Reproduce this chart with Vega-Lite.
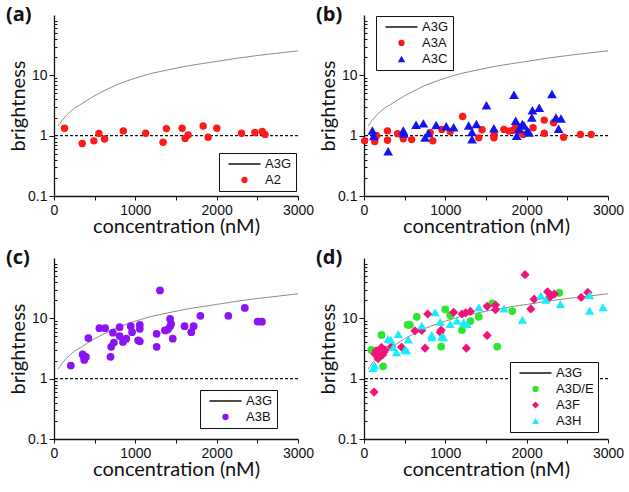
{
  "$schema": "https://vega.github.io/schema/vega-lite/v6.json",
  "background": "white",
  "padding": {"left": 6, "top": 4, "right": 4, "bottom": 4},
  "datasets": {
    "curve": [
      {"c": 50, "b": 1.45}, {"c": 75, "b": 1.6}, {"c": 100, "b": 1.8}, {"c": 150, "b": 2.15},
      {"c": 200, "b": 2.5}, {"c": 250, "b": 2.85}, {"c": 330, "b": 3.3}, {"c": 400, "b": 3.8},
      {"c": 500, "b": 4.6}, {"c": 600, "b": 5.4}, {"c": 750, "b": 6.8}, {"c": 900, "b": 8.1},
      {"c": 1000, "b": 9.0}, {"c": 1200, "b": 10.8}, {"c": 1400, "b": 12.3}, {"c": 1600, "b": 14.0},
      {"c": 1800, "b": 15.5}, {"c": 2000, "b": 17.0}, {"c": 2250, "b": 19.2}, {"c": 2500, "b": 21.3},
      {"c": 2750, "b": 23.3}, {"c": 3000, "b": 25.5}
    ],
    "base": [{"level": 1}],
    "pa": [
      {"c": 129, "b": 1.33, "series": "A2"}, {"c": 347, "b": 0.74, "series": "A2"}, {"c": 490, "b": 0.82, "series": "A2"},
      {"c": 552, "b": 1.09, "series": "A2"}, {"c": 622, "b": 0.88, "series": "A2"}, {"c": 852, "b": 1.2, "series": "A2"},
      {"c": 1127, "b": 1.1, "series": "A2"}, {"c": 1341, "b": 0.78, "series": "A2"}, {"c": 1382, "b": 1.31, "series": "A2"},
      {"c": 1575, "b": 1.33, "series": "A2"}, {"c": 1612, "b": 0.9, "series": "A2"}, {"c": 1649, "b": 1.03, "series": "A2"},
      {"c": 1834, "b": 1.45, "series": "A2"}, {"c": 1895, "b": 0.94, "series": "A2"}, {"c": 2002, "b": 1.33, "series": "A2"},
      {"c": 2306, "b": 1.1, "series": "A2"}, {"c": 2470, "b": 1.13, "series": "A2"}, {"c": 2560, "b": 1.17, "series": "A2"},
      {"c": 2594, "b": 1.05, "series": "A2"}
    ],
    "pb": [
      {"c": 8, "b": 0.82, "series": "A3A"}, {"c": 132, "b": 0.8, "series": "A3A"}, {"c": 155, "b": 1.0, "series": "A3A"},
      {"c": 289, "b": 1.2, "series": "A3A"}, {"c": 289, "b": 0.84, "series": "A3A"}, {"c": 413, "b": 1.08, "series": "A3A"},
      {"c": 483, "b": 0.89, "series": "A3A"}, {"c": 586, "b": 0.86, "series": "A3A"}, {"c": 813, "b": 1.12, "series": "A3A"},
      {"c": 846, "b": 0.82, "series": "A3A"}, {"c": 957, "b": 1.27, "series": "A3A"}, {"c": 1060, "b": 1.17, "series": "A3A"},
      {"c": 1213, "b": 2.08, "series": "A3A"}, {"c": 1411, "b": 0.92, "series": "A3A"}, {"c": 1452, "b": 1.25, "series": "A3A"},
      {"c": 1597, "b": 0.92, "series": "A3A"}, {"c": 1600, "b": 1.05, "series": "A3A"}, {"c": 1720, "b": 1.27, "series": "A3A"},
      {"c": 1782, "b": 1.19, "series": "A3A"}, {"c": 1824, "b": 1.22, "series": "A3A"}, {"c": 1865, "b": 1.38, "series": "A3A"},
      {"c": 1906, "b": 1.15, "series": "A3A"}, {"c": 1956, "b": 1.05, "series": "A3A"}, {"c": 2079, "b": 1.35, "series": "A3A"},
      {"c": 2216, "b": 1.81, "series": "A3A"}, {"c": 2216, "b": 1.1, "series": "A3A"}, {"c": 2331, "b": 1.64, "series": "A3A"},
      {"c": 2455, "b": 0.94, "series": "A3A"}, {"c": 2661, "b": 1.05, "series": "A3A"}, {"c": 2793, "b": 1.05, "series": "A3A"},
      {"c": 103, "b": 1.22, "series": "A3C"}, {"c": 120, "b": 0.99, "series": "A3C"}, {"c": 297, "b": 0.55, "series": "A3C"},
      {"c": 483, "b": 1.22, "series": "A3C"}, {"c": 490, "b": 1.08, "series": "A3C"}, {"c": 640, "b": 1.52, "series": "A3C"},
      {"c": 730, "b": 1.6, "series": "A3C"}, {"c": 751, "b": 0.93, "series": "A3C"}, {"c": 792, "b": 1.1, "series": "A3C"},
      {"c": 887, "b": 1.5, "series": "A3C"}, {"c": 1011, "b": 1.43, "series": "A3C"}, {"c": 1102, "b": 1.38, "series": "A3C"},
      {"c": 1287, "b": 1.47, "series": "A3C"}, {"c": 1328, "b": 0.87, "series": "A3C"}, {"c": 1328, "b": 1.15, "series": "A3C"},
      {"c": 1382, "b": 1.56, "series": "A3C"}, {"c": 1506, "b": 3.2, "series": "A3C"}, {"c": 1597, "b": 1.33, "series": "A3C"},
      {"c": 1844, "b": 4.76, "series": "A3C"}, {"c": 1865, "b": 1.77, "series": "A3C"}, {"c": 1877, "b": 1.0, "series": "A3C"},
      {"c": 1906, "b": 1.3, "series": "A3C"}, {"c": 1947, "b": 1.56, "series": "A3C"}, {"c": 1968, "b": 1.47, "series": "A3C"},
      {"c": 2009, "b": 1.22, "series": "A3C"}, {"c": 2030, "b": 1.13, "series": "A3C"}, {"c": 2063, "b": 2.0, "series": "A3C"},
      {"c": 2071, "b": 2.63, "series": "A3C"}, {"c": 2154, "b": 2.9, "series": "A3C"}, {"c": 2311, "b": 4.9, "series": "A3C"},
      {"c": 2360, "b": 2.0, "series": "A3C"}, {"c": 2422, "b": 1.93, "series": "A3C"}, {"c": 2393, "b": 1.3, "series": "A3C"}
    ],
    "pc": [
      {"c": 207, "b": 1.65, "series": "A3B"}, {"c": 352, "b": 2.52, "series": "A3B"}, {"c": 372, "b": 2.23, "series": "A3B"},
      {"c": 393, "b": 2.3, "series": "A3B"}, {"c": 372, "b": 2.04, "series": "A3B"}, {"c": 422, "b": 4.72, "series": "A3B"},
      {"c": 558, "b": 6.87, "series": "A3B"}, {"c": 629, "b": 6.87, "series": "A3B"}, {"c": 695, "b": 2.3, "series": "A3B"},
      {"c": 703, "b": 3.37, "series": "A3B"}, {"c": 724, "b": 5.77, "series": "A3B"}, {"c": 736, "b": 3.96, "series": "A3B"},
      {"c": 807, "b": 7.13, "series": "A3B"}, {"c": 807, "b": 5.09, "series": "A3B"}, {"c": 848, "b": 4.06, "series": "A3B"},
      {"c": 889, "b": 4.6, "series": "A3B"}, {"c": 943, "b": 7.4, "series": "A3B"}, {"c": 960, "b": 5.9, "series": "A3B"},
      {"c": 1034, "b": 4.32, "series": "A3B"}, {"c": 1055, "b": 4.16, "series": "A3B"}, {"c": 1055, "b": 7.8, "series": "A3B"},
      {"c": 1055, "b": 6.7, "series": "A3B"}, {"c": 1262, "b": 5.55, "series": "A3B"}, {"c": 1262, "b": 3.37, "series": "A3B"},
      {"c": 1303, "b": 29, "series": "A3B"}, {"c": 1365, "b": 6.3, "series": "A3B"}, {"c": 1398, "b": 6.5, "series": "A3B"},
      {"c": 1427, "b": 9.75, "series": "A3B"}, {"c": 1440, "b": 8.1, "series": "A3B"}, {"c": 1427, "b": 7.3, "series": "A3B"},
      {"c": 1460, "b": 4.6, "series": "A3B"}, {"c": 1605, "b": 7.4, "series": "A3B"}, {"c": 1688, "b": 5.9, "series": "A3B"},
      {"c": 1717, "b": 7.4, "series": "A3B"}, {"c": 1800, "b": 11.0, "series": "A3B"}, {"c": 2143, "b": 11.0, "series": "A3B"},
      {"c": 2346, "b": 14.9, "series": "A3B"}, {"c": 2503, "b": 8.8, "series": "A3B"}, {"c": 2557, "b": 8.8, "series": "A3B"}
    ],
    "pd": [
      {"c": 91, "b": 3.0, "series": "A3D/E"}, {"c": 215, "b": 5.3, "series": "A3D/E"}, {"c": 235, "b": 1.6, "series": "A3D/E"},
      {"c": 536, "b": 7.8, "series": "A3D/E"}, {"c": 565, "b": 7.8, "series": "A3D/E"}, {"c": 648, "b": 10.6, "series": "A3D/E"},
      {"c": 949, "b": 3.4, "series": "A3D/E"}, {"c": 998, "b": 14.1, "series": "A3D/E"}, {"c": 1060, "b": 11.3, "series": "A3D/E"},
      {"c": 1205, "b": 6.4, "series": "A3D/E"}, {"c": 1308, "b": 9.0, "series": "A3D/E"}, {"c": 1411, "b": 10.6, "series": "A3D/E"},
      {"c": 1576, "b": 17.7, "series": "A3D/E"}, {"c": 1638, "b": 3.4, "series": "A3D/E"}, {"c": 1824, "b": 13.2, "series": "A3D/E"},
      {"c": 2401, "b": 26.5, "series": "A3D/E"},
      {"c": 124, "b": 0.6, "series": "A3F"}, {"c": 132, "b": 2.58, "series": "A3F"}, {"c": 150, "b": 2.9, "series": "A3F"},
      {"c": 173, "b": 2.14, "series": "A3F"}, {"c": 190, "b": 2.4, "series": "A3F"}, {"c": 215, "b": 3.3, "series": "A3F"},
      {"c": 230, "b": 2.5, "series": "A3F"}, {"c": 243, "b": 2.75, "series": "A3F"}, {"c": 260, "b": 3.0, "series": "A3F"},
      {"c": 338, "b": 3.4, "series": "A3F"}, {"c": 462, "b": 3.33, "series": "A3F"}, {"c": 627, "b": 6.2, "series": "A3F"},
      {"c": 710, "b": 6.3, "series": "A3F"}, {"c": 751, "b": 3.2, "series": "A3F"}, {"c": 784, "b": 11.8, "series": "A3F"},
      {"c": 937, "b": 5.9, "series": "A3F"}, {"c": 949, "b": 6.4, "series": "A3F"}, {"c": 1102, "b": 12.6, "series": "A3F"},
      {"c": 1205, "b": 11.8, "series": "A3F"}, {"c": 1250, "b": 12.3, "series": "A3F"}, {"c": 1258, "b": 3.2, "series": "A3F"},
      {"c": 1308, "b": 13.0, "series": "A3F"}, {"c": 1514, "b": 5.2, "series": "A3F"}, {"c": 1514, "b": 15.8, "series": "A3F"},
      {"c": 1617, "b": 16.6, "series": "A3F"}, {"c": 1617, "b": 13.9, "series": "A3F"}, {"c": 1980, "b": 53, "series": "A3F"},
      {"c": 2051, "b": 14.3, "series": "A3F"}, {"c": 2092, "b": 20.8, "series": "A3F"}, {"c": 2257, "b": 27.5, "series": "A3F"},
      {"c": 2298, "b": 23.6, "series": "A3F"}, {"c": 2340, "b": 25.1, "series": "A3F"}, {"c": 2277, "b": 22.2, "series": "A3F"},
      {"c": 2670, "b": 22.2, "series": "A3F"}, {"c": 2752, "b": 26.9, "series": "A3F"},
      {"c": 111, "b": 1.5, "series": "A3H"}, {"c": 132, "b": 1.66, "series": "A3H"}, {"c": 297, "b": 4.56, "series": "A3H"},
      {"c": 330, "b": 4.4, "series": "A3H"}, {"c": 359, "b": 3.3, "series": "A3H"}, {"c": 400, "b": 2.75, "series": "A3H"},
      {"c": 421, "b": 5.5, "series": "A3H"}, {"c": 503, "b": 3.0, "series": "A3H"}, {"c": 524, "b": 2.93, "series": "A3H"},
      {"c": 545, "b": 4.45, "series": "A3H"}, {"c": 710, "b": 7.57, "series": "A3H"}, {"c": 833, "b": 5.3, "series": "A3H"},
      {"c": 834, "b": 4.86, "series": "A3H"}, {"c": 875, "b": 12.6, "series": "A3H"}, {"c": 937, "b": 8.8, "series": "A3H"},
      {"c": 957, "b": 5.0, "series": "A3H"}, {"c": 978, "b": 4.86, "series": "A3H"}, {"c": 1060, "b": 8.07, "series": "A3H"},
      {"c": 1143, "b": 9.16, "series": "A3H"}, {"c": 1225, "b": 8.6, "series": "A3H"}, {"c": 1267, "b": 8.07, "series": "A3H"},
      {"c": 1411, "b": 15.2, "series": "A3H"}, {"c": 1721, "b": 14.6, "series": "A3H"}, {"c": 1947, "b": 9.5, "series": "A3H"},
      {"c": 2174, "b": 23.6, "series": "A3H"}, {"c": 2236, "b": 20.3, "series": "A3H"}, {"c": 2414, "b": 17.2, "series": "A3H"},
      {"c": 2773, "b": 24.2, "series": "A3H"}, {"c": 2773, "b": 13.4, "series": "A3H"}, {"c": 2938, "b": 15.2, "series": "A3H"}
    ]
  },
  "concat": [
    {
      "width": 244, "height": 181,
      "title": {"text": "(a)"},
      "layer": [
        {"data": {"name": "curve"}, "mark": {"type": "line", "color": "#8c8c8c", "strokeWidth": 1},
         "encoding": {
           "x": {"field": "c", "type": "quantitative", "scale": {"domain": [0, 3000]},
                 "axis": {"values": [0, 500, 1000, 1500, 2000, 2500, 3000], "format": "d", "labelExpr": "datum.value % 1000 === 0 ? datum.label : ''", "title": "concentration (nM)"}},
           "y": {"field": "b", "type": "quantitative", "scale": {"type": "log", "domain": [0.1, 87]},
                 "axis": {"values": [0.1, 0.2, 0.3, 0.4, 0.5, 0.6, 0.7, 0.8, 0.9, 1, 2, 3, 4, 5, 6, 7, 8, 9, 10, 20, 30, 40, 50, 60, 70, 80],
                          "labelExpr": "datum.value === 0.1 ? '0.1' : datum.value === 1 ? '1' : datum.value === 10 ? '10' : ''",
                          "tickSize": {"condition": {"test": "datum.value === 0.1 || datum.value === 1 || datum.value === 10", "value": 5}, "value": -3},
                          "title": "brightness"}}}},
        {"data": {"name": "base"}, "mark": {"type": "rule", "color": "#111", "strokeDash": [3, 2], "strokeWidth": 1.2},
         "encoding": {"y": {"field": "level", "type": "quantitative"}}},
        {"data": {"name": "pa"}, "mark": {"type": "point", "filled": true, "opacity": 1, "size": 55},
         "encoding": {
           "x": {"field": "c", "type": "quantitative"},
           "y": {"field": "b", "type": "quantitative"},
           "color": {"field": "series", "type": "nominal", "scale": {"domain": ["A3G", "A2"], "range": ["#111", "#ff1a1a"]},
                     "legend": {"title": null, "orient": "none", "legendX": 165, "legendY": 138,
                                "encode": {"symbols": {"update": {"size": {"signal": "datum.value === 'A3G' ? 1024 : 40"}, "stroke": {"signal": "datum.value === 'A3G' ? '#111' : 'transparent'"}, "strokeWidth": {"value": 1.5}}}}}},
           "shape": {"field": "series", "type": "nominal", "scale": {"domain": ["A3G", "A2"], "range": ["stroke", "circle"]}}}}
      ]
    },
    {
      "width": 244, "height": 181,
      "title": {"text": "(b)"},
      "layer": [
        {"data": {"name": "curve"}, "mark": {"type": "line", "color": "#8c8c8c", "strokeWidth": 1},
         "encoding": {
           "x": {"field": "c", "type": "quantitative", "scale": {"domain": [0, 3000]},
                 "axis": {"values": [0, 500, 1000, 1500, 2000, 2500, 3000], "format": "d", "labelExpr": "datum.value % 1000 === 0 ? datum.label : ''", "title": "concentration (nM)"}},
           "y": {"field": "b", "type": "quantitative", "scale": {"type": "log", "domain": [0.1, 87]},
                 "axis": {"values": [0.1, 0.2, 0.3, 0.4, 0.5, 0.6, 0.7, 0.8, 0.9, 1, 2, 3, 4, 5, 6, 7, 8, 9, 10, 20, 30, 40, 50, 60, 70, 80],
                          "labelExpr": "datum.value === 0.1 ? '0.1' : datum.value === 1 ? '1' : datum.value === 10 ? '10' : ''",
                          "tickSize": {"condition": {"test": "datum.value === 0.1 || datum.value === 1 || datum.value === 10", "value": 5}, "value": -3},
                          "title": "brightness"}}}},
        {"data": {"name": "base"}, "mark": {"type": "rule", "color": "#111", "strokeDash": [3, 2], "strokeWidth": 1.2},
         "encoding": {"y": {"field": "level", "type": "quantitative"}}},
        {"data": {"name": "pb"}, "mark": {"type": "point", "filled": true, "opacity": 1},
         "encoding": {
           "x": {"field": "c", "type": "quantitative"},
           "y": {"field": "b", "type": "quantitative"},
           "size": {"condition": {"test": "datum.series === 'A3C'", "value": 95}, "value": 55},
           "color": {"field": "series", "type": "nominal", "scale": {"domain": ["A3G", "A3A", "A3C"], "range": ["#111", "#ff1a1a", "#1414f0"]},
                     "legend": {"title": null, "orient": "none", "legendX": 12, "legendY": 1,
                                "encode": {"symbols": {"update": {"size": {"signal": "datum.value === 'A3G' ? 1024 : datum.value === 'A3C' ? 55 : 40"}, "stroke": {"signal": "datum.value === 'A3G' ? '#111' : 'transparent'"}, "strokeWidth": {"value": 1.5}}}}}},
           "shape": {"field": "series", "type": "nominal", "scale": {"domain": ["A3G", "A3A", "A3C"], "range": ["stroke", "circle", "triangle-up"]}}}}
      ]
    },
    {
      "width": 244, "height": 181,
      "title": {"text": "(c)"},
      "layer": [
        {"data": {"name": "curve"}, "mark": {"type": "line", "color": "#8c8c8c", "strokeWidth": 1},
         "encoding": {
           "x": {"field": "c", "type": "quantitative", "scale": {"domain": [0, 3000]},
                 "axis": {"values": [0, 500, 1000, 1500, 2000, 2500, 3000], "format": "d", "labelExpr": "datum.value % 1000 === 0 ? datum.label : ''", "title": "concentration (nM)"}},
           "y": {"field": "b", "type": "quantitative", "scale": {"type": "log", "domain": [0.1, 87]},
                 "axis": {"values": [0.1, 0.2, 0.3, 0.4, 0.5, 0.6, 0.7, 0.8, 0.9, 1, 2, 3, 4, 5, 6, 7, 8, 9, 10, 20, 30, 40, 50, 60, 70, 80],
                          "labelExpr": "datum.value === 0.1 ? '0.1' : datum.value === 1 ? '1' : datum.value === 10 ? '10' : ''",
                          "tickSize": {"condition": {"test": "datum.value === 0.1 || datum.value === 1 || datum.value === 10", "value": 5}, "value": -3},
                          "title": "brightness"}}}},
        {"data": {"name": "base"}, "mark": {"type": "rule", "color": "#111", "strokeDash": [3, 2], "strokeWidth": 1.2},
         "encoding": {"y": {"field": "level", "type": "quantitative"}}},
        {"data": {"name": "pc"}, "mark": {"type": "point", "filled": true, "opacity": 1, "size": 60},
         "encoding": {
           "x": {"field": "c", "type": "quantitative"},
           "y": {"field": "b", "type": "quantitative"},
           "color": {"field": "series", "type": "nominal", "scale": {"domain": ["A3G", "A3B"], "range": ["#111", "#8a14f5"]},
                     "legend": {"title": null, "orient": "none", "legendX": 146, "legendY": 132,
                                "encode": {"symbols": {"update": {"size": {"signal": "datum.value === 'A3G' ? 1024 : 40"}, "stroke": {"signal": "datum.value === 'A3G' ? '#111' : 'transparent'"}, "strokeWidth": {"value": 1.5}}}}}},
           "shape": {"field": "series", "type": "nominal", "scale": {"domain": ["A3G", "A3B"], "range": ["stroke", "circle"]}}}}
      ]
    },
    {
      "width": 244, "height": 181,
      "title": {"text": "(d)"},
      "layer": [
        {"data": {"name": "curve"}, "mark": {"type": "line", "color": "#8c8c8c", "strokeWidth": 1},
         "encoding": {
           "x": {"field": "c", "type": "quantitative", "scale": {"domain": [0, 3000]},
                 "axis": {"values": [0, 500, 1000, 1500, 2000, 2500, 3000], "format": "d", "labelExpr": "datum.value % 1000 === 0 ? datum.label : ''", "title": "concentration (nM)"}},
           "y": {"field": "b", "type": "quantitative", "scale": {"type": "log", "domain": [0.1, 87]},
                 "axis": {"values": [0.1, 0.2, 0.3, 0.4, 0.5, 0.6, 0.7, 0.8, 0.9, 1, 2, 3, 4, 5, 6, 7, 8, 9, 10, 20, 30, 40, 50, 60, 70, 80],
                          "labelExpr": "datum.value === 0.1 ? '0.1' : datum.value === 1 ? '1' : datum.value === 10 ? '10' : ''",
                          "tickSize": {"condition": {"test": "datum.value === 0.1 || datum.value === 1 || datum.value === 10", "value": 5}, "value": -3},
                          "title": "brightness"}}}},
        {"data": {"name": "base"}, "mark": {"type": "rule", "color": "#111", "strokeDash": [3, 2], "strokeWidth": 1.2},
         "encoding": {"y": {"field": "level", "type": "quantitative"}}},
        {"data": {"name": "pd"}, "mark": {"type": "point", "filled": true, "opacity": 1},
         "encoding": {
           "x": {"field": "c", "type": "quantitative"},
           "y": {"field": "b", "type": "quantitative"},
           "size": {"condition": {"test": "datum.series !== 'A3D/E'", "value": 85}, "value": 60},
           "color": {"field": "series", "type": "nominal", "scale": {"domain": ["A3G", "A3D/E", "A3F", "A3H"], "range": ["#111", "#2ee62e", "#f01478", "#19edfb"]},
                     "legend": {"title": null, "orient": "none", "legendX": 146, "legendY": 104,
                                "encode": {"symbols": {"update": {"size": {"signal": "datum.value === 'A3G' ? 1024 : datum.value === 'A3D/E' ? 40 : 50"}, "stroke": {"signal": "datum.value === 'A3G' ? '#111' : 'transparent'"}, "strokeWidth": {"value": 1.5}}}}}},
           "shape": {"field": "series", "type": "nominal", "scale": {"domain": ["A3G", "A3D/E", "A3F", "A3H"], "range": ["stroke", "circle", "diamond", "triangle-up"]}}}}
      ]
    }
  ],
  "columns": 2,
  "spacing": {"row": 62, "column": 66},
  "bounds": "flush",
  "resolve": {"scale": {"color": "independent", "shape": "independent"}, "legend": {"color": "independent", "shape": "independent"}},
  "config": {
    "view": {"stroke": null},
    "axis": {"grid": false, "domainColor": "#111", "domainWidth": 1.3, "tickColor": "#111", "tickWidth": 1, "tickSize": 4,
             "labelFont": "Liberation Sans", "labelFontSize": 14, "labelColor": "#111", "labelPadding": 3, "labelOverlap": false, "labelFlush": false,
             "titleFont": "Lato", "titleFontSize": 20, "titleFontWeight": "normal", "titleColor": "#111"},
    "axisX": {"titlePadding": -1, "labelPadding": 3},
    "axisY": {"titlePadding": -1, "labelPadding": 2},
    "legend": {"labelFont": "Liberation Sans", "labelFontSize": 13, "labelColor": "#111", "strokeColor": "#111", "fillColor": "white",
               "padding": 4, "rowPadding": 2, "clipHeight": 14, "symbolOffset": 15, "labelOffset": 14, "symbolOpacity": 1},
    "title": {"font": "Open Sans", "fontSize": 20, "fontWeight": "bold", "color": "#111", "anchor": "start", "frame": "group", "dx": -48, "offset": -11, "baseline": "alphabetic"}
  }
}
